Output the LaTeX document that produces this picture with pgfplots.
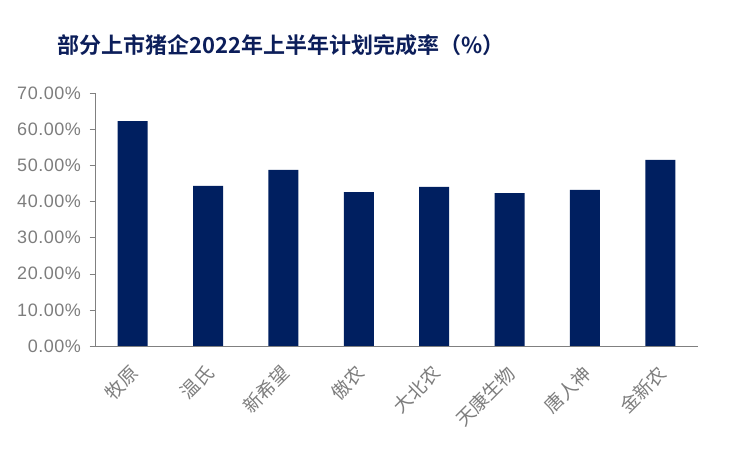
\documentclass[border=0pt]{standalone}
\usepackage{pgfplots}
\pgfplotsset{compat=1.18}
\usepackage{fontspec}
\setmainfont{Liberation Sans}
\newfontfamily\numfont[LetterSpace=3]{Liberation Sans}
\newfontfamily\cjk{Noto Sans CJK SC}
\newfontfamily\cjkb{Noto Sans CJK SC Bold}
\definecolor{navy}{RGB}{0,31,96}
\definecolor{titleblue}{RGB}{12,30,90}
\definecolor{axgray}{RGB}{128,128,128}
\definecolor{lblgray}{RGB}{125,125,125}
\begin{document}
\begin{tikzpicture}
\useasboundingbox (0,0) rectangle (562.5pt,337.5pt);
\node[anchor=west, text=titleblue, inner sep=0pt] at (42.75pt,303.75pt)
  {\fontsize{16.5pt}{19pt}\cjkb 部分上市猪企2022年上半年计划完成率（\%）};
\begin{axis}[
  at={(71.25pt,78pt)}, anchor=south west,
  scale only axis, width=452.25pt, height=189.75pt,
  ymin=0, ymax=70, xmin=-0.5, xmax=7.5,
  axis lines=left, axis line style={axgray, -},
  ybar, bar width=22.5pt,
  ytick={0,10,...,70},
  yticklabel={\pgfmathprintnumber[fixed,fixed zerofill,precision=2]{\tick}\%},
  /pgf/number format/assume math mode=true,
  y tick label style={text=lblgray, font=\fontsize{13.5pt}{15pt}\numfont, xshift=-3pt},
  ytick style={axgray}, tick align=outside, major tick length=4pt,
  xtick={0,...,7},
  xticklabels={牧原,温氏,新希望,傲农,大北农,天康生物,唐人神,金新农},
  x tick label style={text=lblgray, font=\fontsize{14pt}{16pt}\cjk, rotate=45, anchor=north east, xshift=-5pt, yshift=-1pt},
  x tick style={draw=none},
  extra x ticks={-0.5,0.5,...,7.5},
  extra x tick labels={},
  extra x tick style={tick style={draw=axgray, line width=0.4pt}},
  clip=false,
]
\addplot[fill=navy, draw=none] coordinates {
  (0,62.2) (1,44.3) (2,48.7) (3,42.6) (4,44.0) (5,42.3) (6,43.2) (7,51.5)};
\end{axis}
\end{tikzpicture}
\end{document}
